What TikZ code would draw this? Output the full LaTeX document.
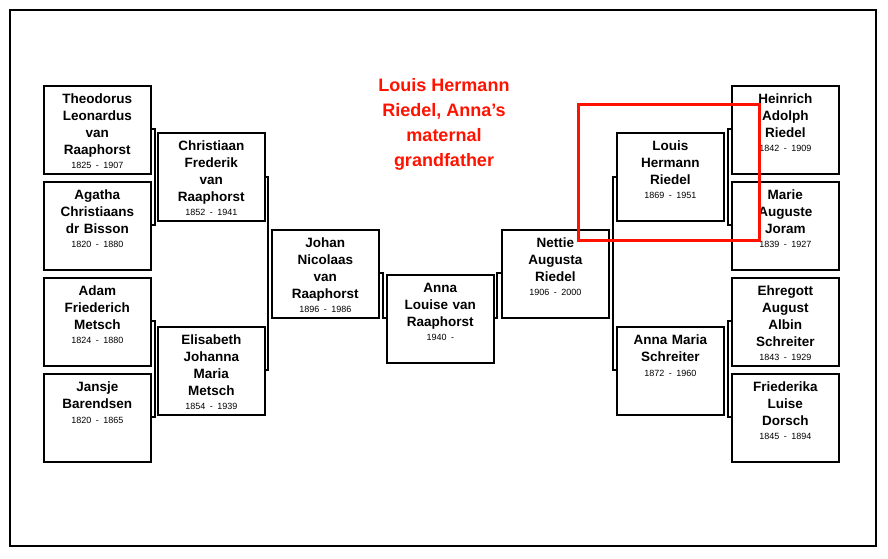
\documentclass[tikz,border=0pt]{standalone}
\usepackage{fontspec}
\setmainfont{Liberation Sans}
\begin{document}
\begin{tikzpicture}[x=1pt,y=-1pt,
  p/.style={draw=black,line width=1.6pt,fill=white,minimum width=107pt,minimum height=88pt,inner sep=0pt,anchor=north west},
  t/.style={align=center,font=\bfseries\fontsize{13.5}{16.8}\selectfont,inner sep=0pt,anchor=north,text width=106pt},
  br/.style={draw=black,line width=1.2pt}]
\useasboundingbox (0,0) rectangle (888,558);
\fill[white] (0,0) rectangle (888,558);
\draw[line width=2pt] (10,10) rectangle (876,546);
\newcommand{\pers}[5]{\node[p] (#1) at (#2,#3) {};
  \node[t] (#1t) at ([yshift=-9pt]#1.north) {#4\\[-2.5pt]{\mdseries\fontsize{9}{11}\selectfont #5}};}
% connectors
\draw[br] (152,129) -- (155,129) -- (155,225) -- (152,225);
\draw[br] (152,321) -- (155,321) -- (155,417) -- (152,417);
\draw[br] (265,177) -- (268,177) -- (268,370) -- (265,370);
\draw[br] (380,273) -- (383,273) -- (383,318) -- (386,318);
\draw[br] (494,318) -- (497,318) -- (497,273) -- (501,273);
\draw[br] (731,129) -- (728,129) -- (728,225) -- (731,225);
\draw[br] (731,321) -- (728,321) -- (728,417) -- (731,417);
\draw[br] (616,177) -- (613,177) -- (613,370) -- (616,370);
\pers{a1}{43}{85}{Theodorus\\Leonardus\\van\\Raaphorst}{1825 - 1907}
\pers{a2}{43}{181}{Agatha\\Christiaans\\dr Bisson}{1820 - 1880}
\pers{a3}{43}{277}{Adam\\Friederich\\Metsch}{1824 - 1880}
\pers{a4}{43}{373}{Jansje\\Barendsen}{1820 - 1865}
\pers{b1}{157}{132}{Christiaan\\Frederik\\van\\Raaphorst}{1852 - 1941}
\pers{b2}{157}{326}{Elisabeth\\Johanna\\Maria\\Metsch}{1854 - 1939}
\pers{c1}{271}{229}{Johan\\Nicolaas\\van\\Raaphorst}{1896 - 1986}
\pers{d}{386}{274}{Anna\\Louise van\\Raaphorst}{1940 -}
\pers{e1}{501}{229}{Nettie\\Augusta\\Riedel}{1906 - 2000}
\pers{f1}{616}{132}{Louis\\Hermann\\Riedel}{1869 - 1951}
\pers{f2}{616}{326}{Anna Maria\\Schreiter}{1872 - 1960}
\pers{g1}{731}{85}{Heinrich\\Adolph\\Riedel}{1842 - 1909}
\pers{g2}{731}{181}{Marie\\Auguste\\Joram}{1839 - 1927}
\pers{g3}{731}{277}{Ehregott\\August\\Albin\\Schreiter}{1843 - 1929}
\pers{g4}{731}{373}{Friederika\\Luise\\Dorsch}{1845 - 1894}
\node[font=\bfseries\fontsize{18}{25}\selectfont,text=red!85!orange,align=center] (title) at (444,124) {Louis Hermann\\Riedel, Anna’s\\maternal\\grandfather};
\draw[red!85!orange,line width=3pt] (578,104) rectangle (759,240);
\end{tikzpicture}
\end{document}
